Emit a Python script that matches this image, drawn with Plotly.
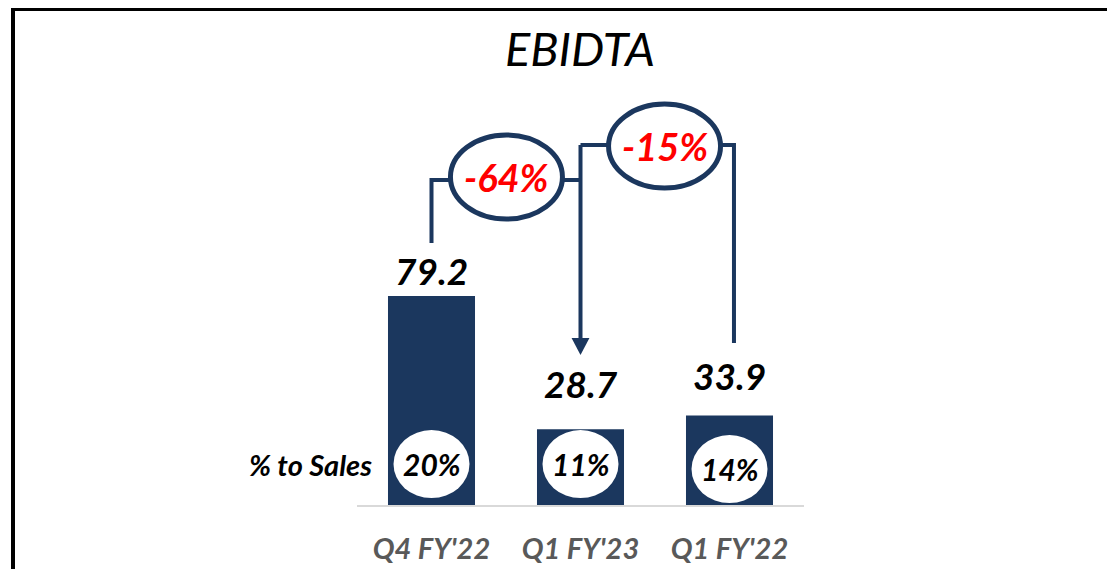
import plotly.graph_objects as go

# ---- data ----
categories = ["Q4 FY'22", "Q1 FY'23", "Q1 FY'22"]
ebidta = [79.2, 28.7, 33.9]
pct_to_sales = ["20%", "11%", "14%"]
title_text = "EBIDTA"
side_label = "% to Sales"

# ---- style / layout ----
NAVY = "#1B375E"
FONT = "Lato"
W, H = 1115, 569
OFF = 8  # page body margin in the browser
ML, MR, MT, MB = 357 - OFF, 1115 - (804 - OFF), 20 - OFF, 569 - (505 - OFF)
PW, PH = W - ML - MR, H - MT - MB
PX_PER_UNIT = 209 / 79.2
y_top = PH / PX_PER_UNIT

label_offsets = [9.8, 17.5, 15.3]      # value label position above each bar (data units)
circle_y = [15.5, 15.5, 13.6]          # centre of % circles (data units)
level1, level2 = 123.2, 136.4          # connector heights (data units)

fig = go.Figure()
fig.add_trace(go.Bar(x=categories, y=ebidta, marker=dict(color=NAVY, line=dict(width=0)),
                     hoverinfo="skip"))

shapes = []
ann = []

# value labels
for i, v in enumerate(ebidta):
    ann.append(dict(x=i, y=v + label_offsets[i], xref="x", yref="y", text=f"{v:.1f}",
                    showarrow=False, xanchor="center", yanchor="middle",
                    font=dict(family=FONT, size=37, color="black", weight="bold", style="italic")))
# % circles
for i, p in enumerate(pct_to_sales):
    shapes.append(dict(type="circle", xref="x", yref="y", xsizemode="pixel", ysizemode="pixel",
                       xanchor=i, yanchor=circle_y[i], x0=-38, x1=38, y0=-34, y1=34,
                       fillcolor="white", line=dict(width=0), layer="above"))
    ann.append(dict(x=i, y=circle_y[i], xref="x", yref="y", text=p, showarrow=False,
                    xanchor="center", yanchor="middle",
                    font=dict(family=FONT, size=30, color="black", weight="bold", style="italic")))

ann.append(dict(x=(310 - 357) / PW, y=circle_y[0], xref="paper", yref="y", text=side_label,
                showarrow=False, xanchor="center", yanchor="middle",
                font=dict(family=FONT, size=29, color="black", weight="bold", style="italic")))

line = dict(color=NAVY, width=4)
# connector 1: Q4 FY'22 -> Q1 FY'23
shapes.append(dict(type="path", xref="x", yref="y", layer="above", line=line,
                   path=f"M 0,{ebidta[0] + 20.1} L 0,{level1} L 1,{level1}"))
arrow_tip = ebidta[1] + 28.1
shapes.append(dict(type="line", xref="x", yref="y", layer="above", line=line,
                   x0=1, x1=1, y0=level2, y1=arrow_tip + 6.5))
shapes.append(dict(type="path", xref="x", yref="y", layer="above", line=dict(width=0),
                   fillcolor=NAVY,
                   path=f"M 0.94,{arrow_tip + 6.5} L 1.06,{arrow_tip + 6.5} L 1,{arrow_tip} Z"))
# connector 2: Q1 FY'22 -> Q1 FY'23
shapes.append(dict(type="path", xref="x", yref="y", layer="above", line=line,
                   path=f"M 1,{level2} L 2.03,{level2} L 2.03,{ebidta[2] + 27.5}"))

# change ellipses
chg1 = (ebidta[1] - ebidta[0]) / ebidta[0] * 100
chg2 = (ebidta[1] - ebidta[2]) / ebidta[2] * 100
for cx, cy, val in [(0.503, 124.3, chg1), (1.564, 136.0, chg2)]:
    shapes.append(dict(type="circle", xref="x", yref="y", xsizemode="pixel", ysizemode="pixel",
                       xanchor=cx, yanchor=cy, x0=-56, x1=56, y0=-42, y1=42,
                       fillcolor="white", line=dict(color=NAVY, width=5), layer="above"))
    ann.append(dict(x=cx, y=cy, xref="x", yref="y", text=f"{val:.0f}%", showarrow=False,
                    xanchor="center", yanchor="middle",
                    font=dict(family=FONT, size=38, color="#FF0000", weight="bold", style="italic")))

# outer frame (figure pixel coords converted to paper)
shapes.append(dict(type="rect", xref="paper", yref="paper",
                   x0=(13 - OFF - ML) / PW, x1=(1140 - ML) / PW,
                   y0=(H - MB - 600) / PH, y1=(H - MB - 1) / PH,
                   line=dict(color="black", width=4), fillcolor="rgba(0,0,0,0)"))

fig.update_layout(
    width=W, height=H,
    margin=dict(l=ML, r=MR, t=MT, b=MB, autoexpand=False),
    paper_bgcolor="white", plot_bgcolor="white",
    bargap=0.416, showlegend=False,
    title=dict(text=title_text, x=(580 - OFF) / W, xanchor="center",
               y=1 - (50 - OFF) / H, yanchor="middle", xref="container", yref="container",
               font=dict(family=FONT, size=47, color="black", style="italic")),
    xaxis=dict(range=[-0.5, 2.5], autorange=False, showgrid=False, zeroline=False,
               showline=True, linecolor="#D9D9D9", linewidth=2, tickangle=0,
               ticks="outside", ticklen=17, tickcolor="rgba(0,0,0,0)", automargin=False,
               tickfont=dict(family=FONT, size=29, color="#595959", weight="bold", style="italic")),
    yaxis=dict(range=[0, y_top], autorange=False, visible=False, showgrid=False,
               zeroline=False, automargin=False),
    shapes=shapes, annotations=ann,
)

fig.write_html("out.html")
